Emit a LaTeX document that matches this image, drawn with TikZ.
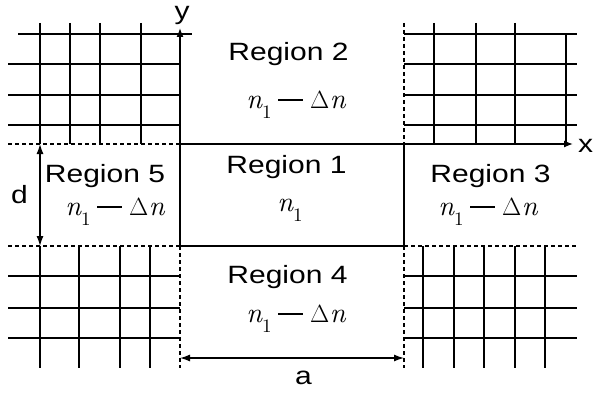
\documentclass[tikz,border=0pt]{standalone}
\usepackage{fontspec}
\setmainfont{Liberation Sans}
\newfontfamily\tnr{lmroman10-regular.otf}[ItalicFont=lmroman10-italic.otf]
\usepackage{graphicx}
\usetikzlibrary{arrows.meta}
\newcommand{\hs}[1]{\scalebox{1.2}[1]{#1}}
\newcommand{\nsub}{{\itshape n}\raisebox{-10pt}{\fontsize{19}{19}\selectfont 1}}
\newcommand{\none}{{\tnr\fontsize{28}{30}\selectfont\nsub}}
\newcommand{\ndn}{{\tnr\fontsize{28}{30}\selectfont\nsub\hspace{6.5pt}\rule[7.3pt]{25pt}{1.3pt}\hspace{7pt}$\Delta$\hspace{0.5pt}{\itshape n}}}
\begin{document}
\begin{tikzpicture}[x=1pt,y=-1pt,line width=1.3pt,
  dsh/.style={dash pattern=on 4pt off 3pt},
  lbl/.style={anchor=base,inner sep=0pt,font=\fontsize{25}{30}\selectfont},
  axarr/.style={-{Latex[length=9pt,width=7pt]}},
  dimarr/.style={{Latex[length=10pt,width=7pt]}-{Latex[length=10pt,width=7pt]}}]
\useasboundingbox (0,0) rectangle (594,396);
% upper-left cladding grid
\draw (18,34) -- (192,34);
\foreach \y in {64,95,125} \draw (8,\y) -- (180,\y);
\foreach \x in {40,70,100,141} \draw (\x,23) -- (\x,144);
\draw[dsh] (8,144) -- (180,144);
% upper-right cladding grid
\draw[dsh] (404,23) -- (404,144);
\foreach \x in {434,476,515} \draw (\x,23) -- (\x,144);
\draw (566,34) -- (566,144);
\foreach \y in {34,64,95,125} \draw (404,\y) -- (577,\y);
% lower-left cladding grid
\draw[dsh] (8,246) -- (180,246);
\foreach \x in {40,79,120,150} \draw (\x,246) -- (\x,368);
\foreach \y in {276,308,338} \draw (8,\y) -- (180,\y);
\draw[dsh] (180,246) -- (180,368);
% lower-right cladding grid
\draw[dsh] (404,246) -- (577,246);
\draw[dsh] (404,246) -- (404,368);
\foreach \x in {423,454,484,515,545} \draw (\x,246) -- (\x,368);
\foreach \y in {276,308,338} \draw (404,\y) -- (577,\y);
% core and axes
\coordinate (O) at (180,144);
\coordinate (X) at (573,144);
\coordinate (Y) at (180,28);
\coordinate (B) at (180,246);
\coordinate (C) at (404,246);
\coordinate (D) at (404,144);
\draw[axarr] (B) -- (Y);
\draw[axarr] (O) -- (X);
\draw (B) -- (C) -- (D);
% dimension arrows
\coordinate (a1) at (180,358);
\coordinate (a2) at (404,358);
\coordinate (d1) at (40,144);
\coordinate (d2) at (40,246);
\draw[dimarr] (a1) -- (a2);
\draw[dimarr] (d1) -- (d2);
% labels
\node[lbl] (xl) at (585.5,152) {\hs{x}};
\node[lbl] (yl) at (182,20) {\hs{y}};
\node[lbl] (al) at (303.5,384) {\hs{a}};
\node[lbl] (dl) at (19.5,203) {\hs{d}};
\node[lbl] (r2) at (288.5,61) {\hs{Region 2}};
\node[lbl] (n2) at (296,108) {\ndn};
\node[lbl] (r1) at (286.5,173) {\hs{Region 1}};
\node[lbl] (n1) at (290,211) {\none};
\node[lbl] (r4) at (287.5,283) {\hs{Region 4}};
\node[lbl] (n4) at (296,322) {\ndn};
\node[lbl] (r5) at (115,215) {\ndn};
\node[lbl] (r5t) at (105,182) {\hs{Region 5}};
\node[lbl] (r3) at (490.5,182) {\hs{Region 3}};
\node[lbl] (n3) at (488,215) {\ndn};
\end{tikzpicture}
\end{document}
